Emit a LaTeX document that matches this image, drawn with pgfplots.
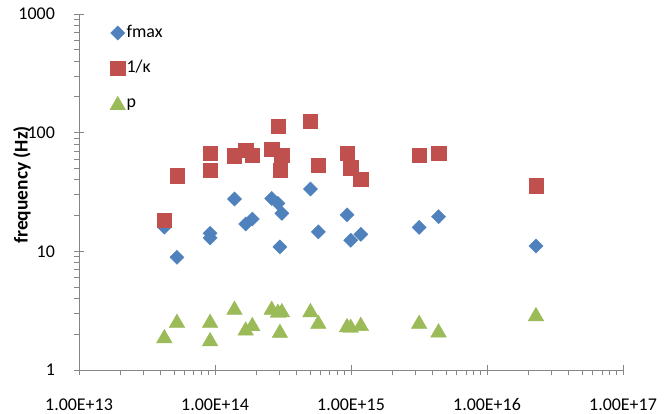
\documentclass[border=0pt]{standalone}
\usepackage{fontspec}
\setmainfont{Carlito}
\usepackage{pgfplots}
\pgfplotsset{compat=1.18}

\definecolor{fblue}{HTML}{4F81BD}
\definecolor{kred}{HTML}{C0504D}
\definecolor{pgreen}{HTML}{9BBB59}
\definecolor{axgray}{HTML}{868686}

% x, fmax, 1/kappa, p
\pgfplotstableread{
x        fmax  kinv   p
4.24e13  16.0  18.4   1.93
5.25e13  8.9   43.4   2.60
9.2e13   14.2  66.9   2.60
9.2e13   13.0  48.1   1.82
1.39e14  27.6  63.9   3.35
1.68e14  17.0  71.4   2.24
1.88e14  18.7  64.4   2.44
2.61e14  27.9  72.3   3.35
2.90e14  25.4  114    3.16
3.00e14  10.9  48.4   2.14
3.10e14  20.9  64.4   3.20
5.03e14  33.5  125    3.20
5.75e14  14.6  53.3   2.55
9.35e14  20.3  66.9   2.39
9.95e14  12.4  50.6   2.36
1.18e15  13.9  40.4   2.45
3.17e15  15.9  64.4   2.55
4.40e15  19.6  66.9   2.16
2.29e16  11.1  35.7   2.96
}\datatable

\begin{document}
\begin{tikzpicture}
\path[use as bounding box] (-79bp,-44bp) rectangle (593bp,370bp);
\begin{axis}[
  at={(0,0)}, anchor=south west,
  scale only axis, width=544bp, height=356bp,
  xmode=log, ymode=log,
  xmin=1e13, xmax=1e17, ymin=1, ymax=1000,
  axis lines*=left,
  axis line style={draw=axgray, line width=1bp},
  tick style={draw=axgray, line width=0.9bp},
  tick align=center,
  major tick length=10bp,
  minor tick length=5.5bp,
  every minor x tick/.append style={yshift=-2.75bp},
  every minor y tick/.append style={xshift=-2.75bp},
  xtick={1e13,1e14,1e15,1e16,1e17},
  xticklabels={1.00E+13,1.00E+14,1.00E+15,1.00E+16,1.00E+17},
  minor xtick={2e13,3e13,4e13,5e13,6e13,7e13,8e13,9e13,
               2e14,3e14,4e14,5e14,6e14,7e14,8e14,9e14,
               2e15,3e15,4e15,5e15,6e15,7e15,8e15,9e15,
               2e16,3e16,4e16,5e16,6e16,7e16,8e16,9e16},
  ytick={1,10,100,1000},
  yticklabels={1,10,100,1000},
  minor ytick={2,3,4,5,6,7,8,9,20,30,40,50,60,70,80,90,200,300,400,500,600,700,800,900},
  tick label style={font=\fontsize{18}{20}\selectfont, inner sep=0pt},
  xticklabel style={anchor=base, yshift=-36bp},
  yticklabel style={anchor=east, xshift=-19bp},
  ylabel={frequency (Hz)},
  ylabel style={at={(axis description cs:-0.105,0.52)}, anchor=center,
                font=\fontsize{19.5}{22}\bfseries},
  legend style={draw=none, fill=none, legend cell align=left,
                at={(axis description cs:0.051,0.978)}, anchor=north west,
                row sep=17bp, font=\fontsize{18}{20}\selectfont,
                nodes={inner sep=1pt, text height=12bp, text depth=4bp}},
  legend image code/.code={\draw[mark repeat=2,mark phase=2,#1]
      plot coordinates {(-6bp,0bp) (0bp,0bp) (6bp,0bp)};},
]
\addplot[only marks, mark=square*, mark size=5bp,
  mark options={rotate=45, draw=fblue, fill=fblue}]
  table[x=x, y=fmax] {\datatable};
\addlegendentry{fmax}
\addplot[only marks, mark=square*, mark size=7.2bp,
  mark options={draw=kred, fill=kred}]
  table[x=x, y=kinv] {\datatable};
\addlegendentry{1/κ}
\addplot[only marks, mark=triangle*, mark size=9bp,
  mark options={yshift=-2.25bp, draw=pgreen, fill=pgreen}]
  table[x=x, y=p] {\datatable};
\addlegendentry{p}
\end{axis}
\end{tikzpicture}
\end{document}
